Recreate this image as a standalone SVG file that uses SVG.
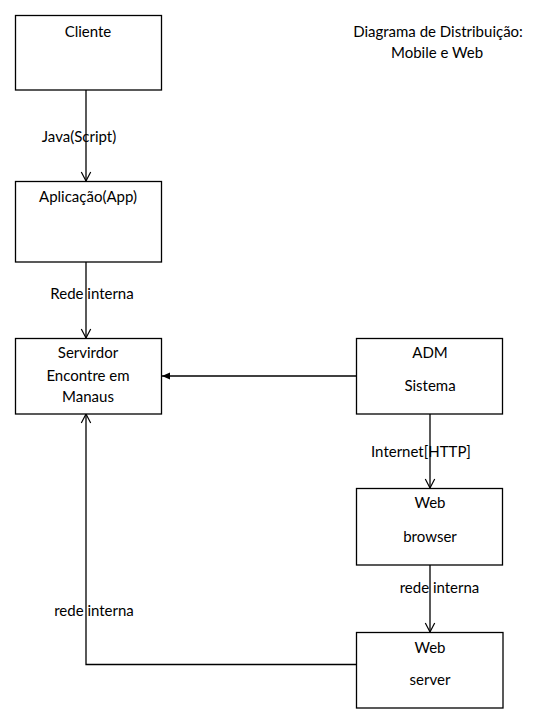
<svg xmlns="http://www.w3.org/2000/svg" width="554" height="725" viewBox="0 0 554 725">
<defs>
<style>
.box{fill:#fff;stroke:#000;stroke-width:1.3}
.t{font-family:Lato,"Open Sans","Liberation Sans",sans-serif;font-size:15px;fill:#000;text-anchor:middle}
.c{fill:none;stroke:#000;stroke-width:1.3}
</style>
<marker id="open" markerWidth="12" markerHeight="12" viewBox="0 0 12 12" refX="10" refY="6" orient="auto" markerUnits="userSpaceOnUse">
<path d="M1,1.3 L10,6 L1,10.7" fill="none" stroke="#000" stroke-width="1.2"/>
</marker>
<marker id="filled" markerWidth="10" markerHeight="10" viewBox="0 0 10 10" refX="9" refY="5" orient="auto" markerUnits="userSpaceOnUse">
<path d="M1,1.5 L9,5 L1,8.5 Z" fill="#000"/>
</marker>
</defs>
<rect width="554" height="725" fill="#fff"/>
<g id="connectors">
<line class="c" x1="86" y1="90" x2="86" y2="181" marker-end="url(#open)"/>
<line class="c" x1="86" y1="262" x2="86" y2="338" marker-end="url(#open)"/>
<line class="c" x1="356" y1="376" x2="162" y2="376" marker-end="url(#filled)"/>
<line class="c" x1="430" y1="414" x2="430" y2="488" marker-end="url(#open)"/>
<line class="c" x1="430" y1="565" x2="430" y2="632" marker-end="url(#open)"/>
<polyline class="c" points="356,664.5 86,664.5 86,414" marker-end="url(#open)"/>
</g>
<g id="labels">
<text class="t" x="79" y="142">Java(Script)</text>
<text class="t" x="92" y="299">Rede interna</text>
<text class="t" x="421" y="457">Internet[HTTP]</text>
<text class="t" x="439.5" y="592.5">rede interna</text>
<text class="t" x="94" y="616">rede interna</text>
</g>
<g id="cliente">
<rect class="box" x="15.5" y="15.5" width="146" height="74.5"/>
<text class="t" x="88" y="37">Cliente</text>
</g>
<g id="aplicacao">
<rect class="box" x="15.5" y="181.5" width="146" height="80.5"/>
<text class="t" x="88" y="202">Aplicação(App)</text>
</g>
<g id="servidor">
<rect class="box" x="15.5" y="338.5" width="146" height="75.5"/>
<text class="t" x="88" y="358">Servirdor</text>
<text class="t" x="88" y="381">Encontre em</text>
<text class="t" x="88" y="402">Manaus</text>
</g>
<g id="adm">
<rect class="box" x="356.5" y="338.5" width="146" height="75.5"/>
<text class="t" x="430" y="358">ADM</text>
<text class="t" x="430" y="391">Sistema</text>
</g>
<g id="webbrowser">
<rect class="box" x="356.5" y="488.5" width="146" height="76.5"/>
<text class="t" x="430" y="508">Web</text>
<text class="t" x="430" y="542">browser</text>
</g>
<g id="webserver">
<rect class="box" x="356.5" y="632.5" width="146.5" height="75.5"/>
<text class="t" x="430" y="652.5">Web</text>
<text class="t" x="430" y="684.5">server</text>
</g>
<g id="title">
<text class="t" x="438" y="37">Diagrama de Distribuição:</text>
<text class="t" x="437" y="58">Mobile e Web</text>
</g>
</svg>
